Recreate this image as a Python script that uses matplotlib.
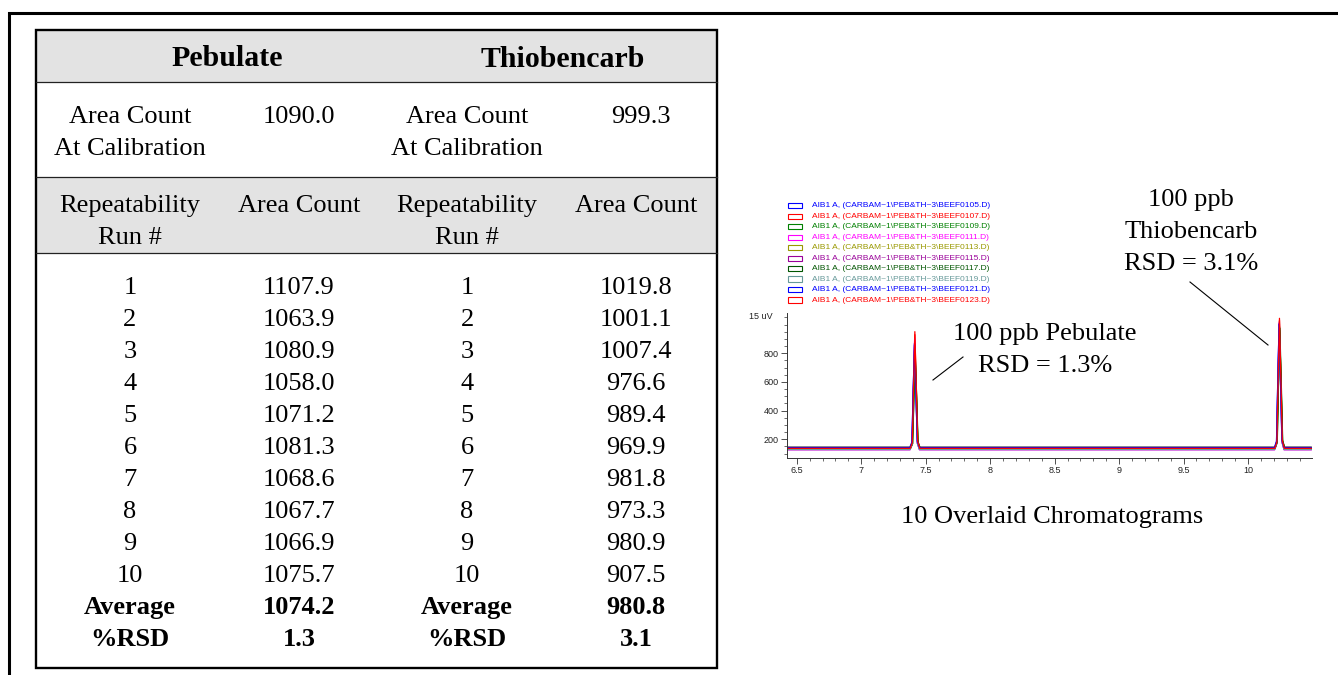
import matplotlib
matplotlib.use("Agg")
import matplotlib.pyplot as plt
from matplotlib.patches import Rectangle
from matplotlib.ticker import MultipleLocator, FuncFormatter

# ---------------- repeatability table ----------------
compounds = ["Pebulate", "Thiobencarb"]
run_numbers = [str(i) for i in range(1, 11)]
pebulate_area = [1107.9, 1063.9, 1080.9, 1058.0, 1071.2, 1081.3, 1068.6, 1067.7, 1066.9, 1075.7]
thiobencarb_area = [1019.8, 1001.1, 1007.4, 976.6, 989.4, 969.9, 981.8, 973.3, 980.9, 907.5]
calibration_area = [1090.0, 999.3]
average_area = [1074.2, 980.8]
rsd_percent = [1.3, 3.1]

# ---------------- chromatogram traces ----------------
trace_files = ["BEEF0105.D", "BEEF0107.D", "BEEF0109.D", "BEEF0111.D", "BEEF0113.D",
               "BEEF0115.D", "BEEF0117.D", "BEEF0119.D", "BEEF0121.D", "BEEF0123.D"]
trace_colors = ["#0000ff", "#ff0000", "#008000", "#ff00ff", "#999900",
                "#990099", "#005500", "#669999", "#0000ff", "#ff0000"]
baseline_uv = [130, 142, 136, 126, 146, 133, 139, 128, 144, 137]
pebulate_rt = [7.413, 7.416, 7.418, 7.414, 7.417, 7.415, 7.419, 7.414, 7.413, 7.416]
pebulate_apex = [870, 951, 780, 900, 830, 865, 790, 820, 860, 930]
thiobencarb_rt = [10.241, 10.244, 10.246, 10.242, 10.245, 10.243, 10.247, 10.242, 10.241, 10.244]
thiobencarb_apex = [1000, 1044, 962, 1010, 985, 1020, 975, 990, 1005, 1030]
# common peak profile: time offset from apex (min) and fraction of apex height
peak_dt = [-0.036, -0.020, -0.011, 0.0, 0.012, 0.022, 0.038]
peak_frac = [0.0, 0.05, 0.5, 1.0, 0.5, 0.06, 0.0]
run_start, run_end = 6.43, 10.49

W, H = 1338, 675
SERIF = ["Liberation Serif", "DejaVu Serif"]
SANS = ["Liberation Sans", "DejaVu Sans"]

fig = plt.figure(figsize=(W / 100, H / 100), dpi=100)
base = fig.add_axes([0, 0, 1, 1])
base.set_xlim(0, W)
base.set_ylim(H, 0)
base.axis("off")

# page frame
base.plot([9, 9, W + 5], [H + 5, 13, 13], color="black", lw=2.2,
          solid_joinstyle="miter", clip_on=False)

# table body
tx0, tx1, ty0, ty1 = 36, 717, 30, 668
gray = "#e3e3e3"
base.add_patch(Rectangle((tx0, ty0), tx1 - tx0, 82 - ty0, fc=gray, ec="none"))
base.add_patch(Rectangle((tx0, 177), tx1 - tx0, 253 - 177, fc=gray, ec="none"))
for yl in (82, 177, 253):
    base.plot([tx0, tx1], [yl, yl], color="#222222", lw=0.9)
base.add_patch(Rectangle((tx0, ty0), tx1 - tx0, ty1 - ty0, fill=False,
                         ec="black", lw=1.7))

col_x = [130, 299, 467, 636]
fs = 19


def cell(x, y, s, bold=False, size=fs):
    base.text(x, y, s, ha="center", va="baseline", fontsize=size,
              family=SERIF, fontweight="bold" if bold else "normal",
              color="black")


cell(227, 66, compounds[0], bold=True, size=21.5)
cell(563, 67, compounds[1], bold=True, size=21.5)

for k, (cx, vx) in enumerate([(col_x[0], col_x[1]), (col_x[2], 641)]):
    cell(cx, 123, "Area Count")
    cell(cx, 155, "At Calibration")
    cell(vx, 123, f"{calibration_area[k]:.1f}")

for cx, vx in [(col_x[0], col_x[1]), (col_x[2], col_x[3])]:
    cell(cx, 212, "Repeatability")
    cell(cx, 244, "Run #")
    cell(vx, 212, "Area Count")

for i, run in enumerate(run_numbers):
    yb = 294 + 32 * i
    cell(col_x[0], yb, run)
    cell(col_x[1], yb, f"{pebulate_area[i]:.1f}")
    cell(col_x[2], yb, run)
    cell(col_x[3], yb, f"{thiobencarb_area[i]:.1f}")

for k in range(2):
    cell(col_x[2 * k], 614, "Average", bold=True)
    cell(col_x[2 * k + 1], 614, f"{average_area[k]:.1f}", bold=True)
    cell(col_x[2 * k], 646, "%RSD", bold=True)
    cell(col_x[2 * k + 1], 646, f"{rsd_percent[k]:.1f}", bold=True)

# chromatogram panel
ax_l, ax_r, ax_t, ax_b = 786.7, 1311.7, 313.0, 458.3
ax = fig.add_axes([ax_l / W, 1 - ax_b / H, (ax_r - ax_l) / W, (ax_b - ax_t) / H])
ax.set_xlim(run_start - 0.008, run_end + 0.004)
ax.set_ylim(67.5, 1081)

for i in range(len(trace_files)):
    xs = [run_start]
    ys = [baseline_uv[i]]
    for rt, apex in ((pebulate_rt[i], pebulate_apex[i]),
                     (thiobencarb_rt[i], thiobencarb_apex[i])):
        for dt, fr in zip(peak_dt, peak_frac):
            xs.append(rt + dt)
            ys.append(baseline_uv[i] + fr * (apex - baseline_uv[i]))
    xs.append(run_end)
    ys.append(baseline_uv[i])
    ax.plot(xs, ys, color=trace_colors[i], lw=0.9)

for side in ("top", "right"):
    ax.spines[side].set_visible(False)
for side in ("left", "bottom"):
    ax.spines[side].set_linewidth(0.7)
    ax.spines[side].set_color("#333333")
ax.set_facecolor("none")
ax.xaxis.set_major_locator(MultipleLocator(0.5))
ax.xaxis.set_minor_locator(MultipleLocator(0.1))
ax.yaxis.set_major_locator(MultipleLocator(200))
ax.yaxis.set_minor_locator(MultipleLocator(50))
ax.set_yticks([200, 400, 600, 800])
ax.xaxis.set_major_formatter(FuncFormatter(lambda v, p: f"{v:g}"))
ax.tick_params(which="major", length=4, width=0.6, labelsize=6.5, pad=1.8,
               colors="#333333", labelcolor="#222222")
ax.tick_params(which="minor", length=2, width=0.5, colors="#333333")
for lab in ax.get_xticklabels() + ax.get_yticklabels():
    lab.set_family(SANS)

base.text(773, 316.7, "15 uV", ha="right", va="center", fontsize=6.5,
          family=SANS, color="#222222")

# legend of the overlaid runs
for i, (fname, col) in enumerate(zip(trace_files, trace_colors)):
    y = 205.7 + 10.48 * i
    base.add_patch(Rectangle((788, y - 2.6), 13.5, 5.2, fill=False, ec=col, lw=0.8))
    base.text(811.5, y, f"AIB1 A, (CARBAM~1\\PEB&TH~3\\{fname})", ha="left",
              va="center", fontsize=6, family=SANS, color=col)

# peak annotations
ann = dict(ha="center", va="baseline", fontsize=fs, family=SERIF, color="black")
base.text(1045, 340, "100 ppb Pebulate", **ann)
base.text(1045, 372, f"RSD = {rsd_percent[0]:.1f}%", **ann)
base.plot([933, 963], [380, 357], color="black", lw=0.8)

base.text(1191, 206, "100 ppb", **ann)
base.text(1191, 238, "Thiobencarb", **ann)
base.text(1191, 270, f"RSD = {rsd_percent[1]:.1f}%", **ann)
base.plot([1190, 1268], [282, 345], color="black", lw=0.8)

base.text(1052, 523, "10 Overlaid Chromatograms", **ann)

fig.savefig("out.png", dpi=100)
